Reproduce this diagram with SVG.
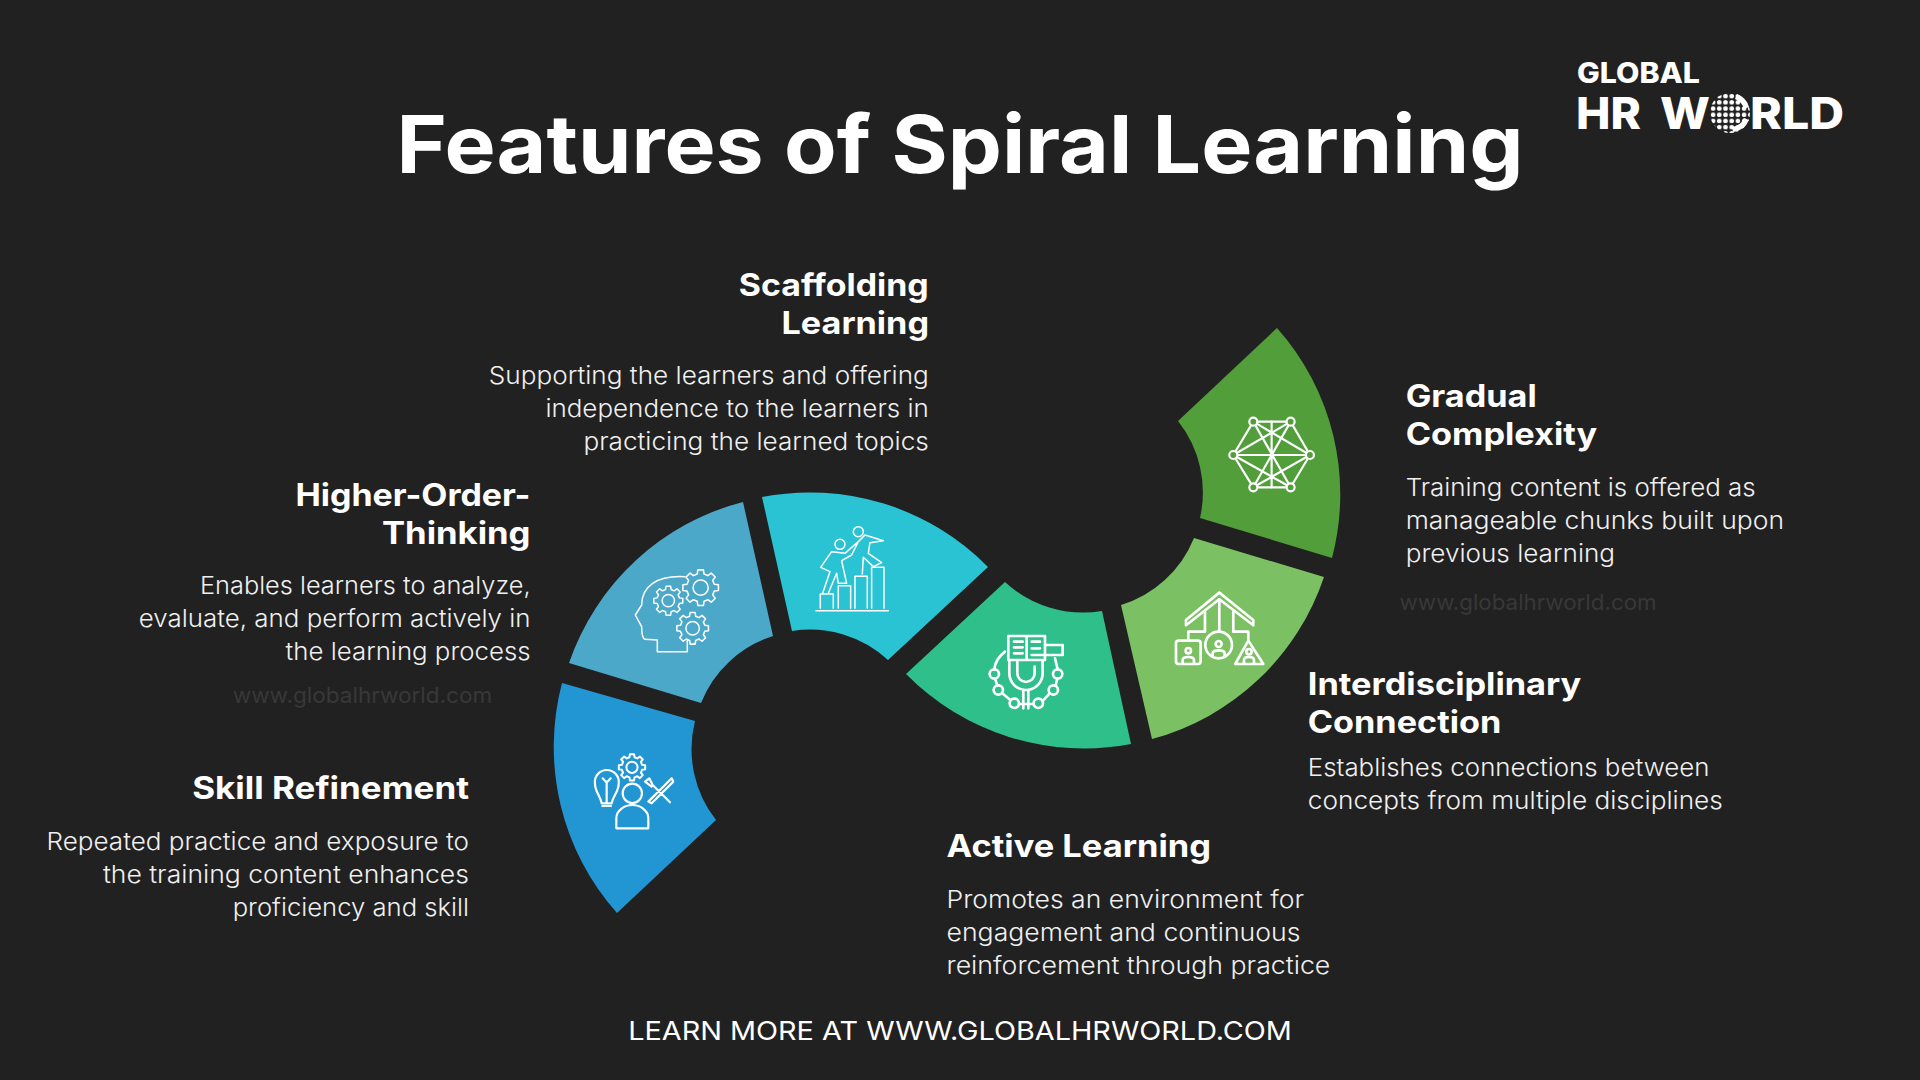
<svg xmlns="http://www.w3.org/2000/svg" width="1920" height="1080" viewBox="0 0 1920 1080">
<style>
text{font-family:"Inter","Liberation Sans",sans-serif;fill:#fff}
.t{font-size:80px;font-weight:700}
.h{font-size:31px;font-weight:700}
.b{font-size:24px;font-weight:300;fill:#f0f0f0}
.w{font-size:22px;font-weight:400;fill:#383838}
.f{font-size:26px;font-weight:400}
.ic{fill:none;stroke:#fff;stroke-linejoin:round;stroke-linecap:round}
.thin{stroke-width:4.5}
.mid{stroke-width:6.5}
.bold{stroke-width:8}
</style>
<defs>
<g id="gear"><path d="M9.88 -1.56L9.88 1.56 7.57 1.89 6.69 4.02 8.09 5.88 5.88 8.09 4.02 6.69 1.89 7.57 1.56 9.88 -1.56 9.88 -1.89 7.57 -4.02 6.69 -5.88 8.09 -8.09 5.88 -6.69 4.02 -7.57 1.89 -9.88 1.56 -9.88 -1.56 -7.57 -1.89 -6.69 -4.02 -8.09 -5.88 -5.88 -8.09 -4.02 -6.69 -1.89 -7.57 -1.56 -9.88 1.56 -9.88 1.89 -7.57 4.02 -6.69 5.88 -8.09 8.09 -5.88 6.69 -4.02 7.57 -1.89Z"/><circle r="4.2"/></g>
<pattern id="dots" width="6.2" height="6.2" patternUnits="userSpaceOnUse" x="1710" y="93"><circle cx="3.1" cy="3.1" r="2.3" fill="#fff"/></pattern>
</defs>
<rect width="1920" height="1080" fill="#212121"/>
<text class="t" x="396.5" y="173" textLength="1127" lengthAdjust="spacingAndGlyphs">Features of Spiral Learning</text>

<g id="logo">
<text x="1577" y="83" font-size="28" font-weight="800" textLength="123" lengthAdjust="spacingAndGlyphs">GLOBAL</text>
<text x="1576" y="129" font-size="44" font-weight="800" textLength="65" lengthAdjust="spacingAndGlyphs">HR</text>
<text x="1660" y="129" font-size="44" font-weight="800" textLength="50" lengthAdjust="spacingAndGlyphs">W</text>
<circle cx="1730" cy="113" r="20" fill="url(#dots)"/>
<path d="M1737 94A20 20 0 0 1 1749 107L1744 109A15 15 0 0 0 1735 99Z M1744 118L1749 120A20 20 0 0 1 1733 132L1732 127A15 15 0 0 0 1744 118Z" fill="#fff"/>
<text x="1750" y="129" font-size="44" font-weight="800" textLength="94" lengthAdjust="spacingAndGlyphs">RLD</text>
</g>

<g id="skill-refinement">
<path d="M562 683L695 721A115 115 0 0 0 716 820L617 913A250 250 0 0 1 562 683Z" fill="#2196d2"/>
<g class="ic mid" transform="translate(530 470) scale(.3333)">
<path d="M215 1000C210 975 195 965 195 942A36 36 0 1 1 266 942C266 965 250 975 245 1000Z M230 1000V935 M218 925L230 938 242 925 M217 1008H243"/>
<use href="#gear" transform="translate(306 892) scale(4)" stroke-width="1.5"/>
<circle cx="307" cy="970" r="29"/>
<path d="M259 1075V1045C259 1020 285 1005 307 1005S355 1020 355 1045V1075Z"/>
<path d="M355 995L425 925 430 935 365 1000Z M345 935L358 925 368 945 420 997 M345 935L365 950"/>
</g>
<text class="h" x="192.2" y="799" textLength="276.8" lengthAdjust="spacingAndGlyphs">Skill Refinement</text>
<text class="b" x="46.5" y="850" textLength="422.5" lengthAdjust="spacingAndGlyphs">Repeated practice and exposure to</text>
<text class="b" x="102.9" y="883" textLength="366" lengthAdjust="spacingAndGlyphs">the training content enhances</text>
<text class="b" x="232.7" y="916" textLength="236.3" lengthAdjust="spacingAndGlyphs">proficiency and skill</text>
</g>

<g id="higher-order-thinking">
<path d="M569 663A250 250 0 0 1 743 502L773 636A115 115 0 0 0 701 703Z" fill="#4ca8c9"/>
<g class="ic thin" transform="translate(530 470) scale(.3333)">
<path d="M382 545V510L345 508C338 505 335 490 335 470L316 435 335 405C335 350 380 315 465 320 M382 545H472V510"/>
<use href="#gear" transform="translate(512 353) scale(5.4)" stroke-width=".85"/>
<use href="#gear" transform="translate(415 392) scale(4.4)" stroke-width="1"/>
<use href="#gear" transform="translate(488 475) scale(4.8)" stroke-width=".95"/>
</g>
<text class="h" x="295.5" y="505.7" textLength="235" lengthAdjust="spacingAndGlyphs">Higher-Order-</text>
<text class="h" x="382" y="543.7" textLength="148.5" lengthAdjust="spacingAndGlyphs">Thinking</text>
<text class="b" x="200" y="594" textLength="330.6" lengthAdjust="spacingAndGlyphs">Enables learners to analyze,</text>
<text class="b" x="138.8" y="627" textLength="391.8" lengthAdjust="spacingAndGlyphs">evaluate, and perform actively in</text>
<text class="b" x="285.6" y="660" textLength="245" lengthAdjust="spacingAndGlyphs">the learning process</text>
<text class="w" x="232.7" y="703" textLength="259.6" lengthAdjust="spacingAndGlyphs">www.globalhrworld.com</text>
</g>

<g id="scaffolding-learning">
<path d="M762 497A250 250 0 0 1 988 567L888 660A115 115 0 0 0 792 631Z" fill="#2ac3d3"/>
<g class="ic thin" transform="translate(530 470) scale(.3333)">
<path d="M858 422H1075"/>
<path d="M871 415V372H910V415M925 415V347H962V415M975 415V319H1012V415M1025 415V292H1062V415"/>
<circle cx="930" cy="223" r="15"/><circle cx="985" cy="185" r="15"/>
<path d="M878 370L900 305 872 292 905 245 945 250 985 215 965 255 935 272 950 340H925L920 310 895 370"/>
<path d="M985 215L1005 195 1060 212 1020 218 1015 250 1055 278 1030 290 1000 262 997 312"/>
</g>
<text class="h" x="738.8" y="296" textLength="190" lengthAdjust="spacingAndGlyphs">Scaffolding</text>
<text class="h" x="781.5" y="334" textLength="147.5" lengthAdjust="spacingAndGlyphs">Learning</text>
<text class="b" x="488.8" y="383.5" textLength="440" lengthAdjust="spacingAndGlyphs">Supporting the learners and offering</text>
<text class="b" x="545.4" y="416.5" textLength="383.4" lengthAdjust="spacingAndGlyphs">independence to the learners in</text>
<text class="b" x="583.4" y="449.6" textLength="345.4" lengthAdjust="spacingAndGlyphs">practicing the learned topics</text>
</g>

<g id="active-learning">
<path d="M906 674L1005 582A115 115 0 0 0 1102 611L1131 744A250 250 0 0 1 906 674Z" fill="#2fbf8a"/>
<g class="ic bold" transform="translate(880 310) scale(.3333)">
<path d="M385 978H495V1050H385ZM440 978V1050M402 995H428M402 1012H428M402 1030H428M455 995H480M455 1015H480M495 1005H548V1035H455"/>
<path d="M388 1052V1090A50 50 0 0 0 488 1090V1052M412 1055V1090A26 26 0 0 0 464 1090V1070"/>
<path d="M430 1140V1195M445 1140V1195"/>
<circle cx="343" cy="1092" r="14"/><circle cx="355" cy="1140" r="14"/><circle cx="403" cy="1180" r="14"/><circle cx="475" cy="1180" r="14"/><circle cx="520" cy="1140" r="14"/><circle cx="533" cy="1092" r="14"/>
<path d="M375 1025C355 1040 345 1060 343 1078M345 1106L352 1126M367 1150L391 1170M417 1182H461M489 1172L509 1150M527 1126L532 1106M533 1078L525 1045"/>
</g>
<text class="h" x="946.5" y="857" textLength="264.5" lengthAdjust="spacingAndGlyphs">Active Learning</text>
<text class="b" x="946.5" y="908" textLength="357.5" lengthAdjust="spacingAndGlyphs">Promotes an environment for</text>
<text class="b" x="946.5" y="941" textLength="354" lengthAdjust="spacingAndGlyphs">engagement and continuous</text>
<text class="b" x="946.5" y="974" textLength="383.8" lengthAdjust="spacingAndGlyphs">reinforcement through practice</text>
</g>

<g id="interdisciplinary-connection">
<path d="M1121 605A115 115 0 0 0 1194 538L1324 577A250 250 0 0 1 1152 739Z" fill="#7bc163"/>
<g class="ic bold" transform="translate(880 310) scale(.3333)">
<path d="M918 930L1018 848 1120 930V946L1018 868 918 946Z"/>
<path d="M1018 868V965M975 905V965H925V990M1060 905V965H1105V990"/>
<circle cx="1016" cy="1005" r="40"/><circle cx="1016" cy="1002" r="9"/><path d="M998 1040V1030C998 1018 1034 1018 1034 1030V1040"/>
<rect x="888" y="992" width="74" height="70" rx="8"/><circle cx="925" cy="1022" r="8"/><path d="M908 1060V1050C908 1038 942 1038 942 1050V1060"/>
<path d="M1105 992L1150 1062H1066Z"/><circle cx="1107" cy="1025" r="8"/><path d="M1092 1060V1050C1092 1038 1122 1038 1122 1050V1060"/>
</g>
<text class="h" x="1307.8" y="694.5" textLength="273.5" lengthAdjust="spacingAndGlyphs">Interdisciplinary</text>
<text class="h" x="1307.8" y="732.5" textLength="193.4" lengthAdjust="spacingAndGlyphs">Connection</text>
<text class="b" x="1307.8" y="776.3" textLength="401.6" lengthAdjust="spacingAndGlyphs">Establishes connections between</text>
<text class="b" x="1307.8" y="809.4" textLength="415" lengthAdjust="spacingAndGlyphs">concepts from multiple disciplines</text>
</g>

<g id="gradual-complexity">
<path d="M1277 328A250 250 0 0 1 1332 558L1200 518A115 115 0 0 0 1178 421Z" fill="#519e3a"/>
<g class="ic mid" transform="translate(880 310) scale(.3333)">
<path d="M1120 335H1232L1290 435 1232 532H1120L1060 435Z"/>
<path d="M1120 335L1232 532M1232 335L1120 532M1060 435H1290M1120 335L1290 435M1232 335L1060 435M1120 532L1290 435M1232 532L1060 435M1175 335V532"/>
<g fill="#519e3a"><circle cx="1120" cy="335" r="12"/><circle cx="1232" cy="335" r="12"/><circle cx="1290" cy="435" r="12"/><circle cx="1232" cy="532" r="12"/><circle cx="1120" cy="532" r="12"/><circle cx="1060" cy="435" r="12"/></g>
</g>
<text class="h" x="1405.7" y="406.8" textLength="131" lengthAdjust="spacingAndGlyphs">Gradual</text>
<text class="h" x="1405.7" y="444.7" textLength="191.5" lengthAdjust="spacingAndGlyphs">Complexity</text>
<text class="b" x="1405.7" y="496" textLength="350" lengthAdjust="spacingAndGlyphs">Training content is offered as</text>
<text class="b" x="1405.7" y="529" textLength="378.3" lengthAdjust="spacingAndGlyphs">manageable chunks built upon</text>
<text class="b" x="1405.7" y="562" textLength="209.4" lengthAdjust="spacingAndGlyphs">previous learning</text>
<text class="w" x="1399.6" y="609.8" textLength="257" lengthAdjust="spacingAndGlyphs">www.globalhrworld.com</text>
</g>

<text class="f" x="628.2" y="1039.6" textLength="663.6" lengthAdjust="spacingAndGlyphs">LEARN MORE AT WWW.GLOBALHRWORLD.COM</text>
</svg>
